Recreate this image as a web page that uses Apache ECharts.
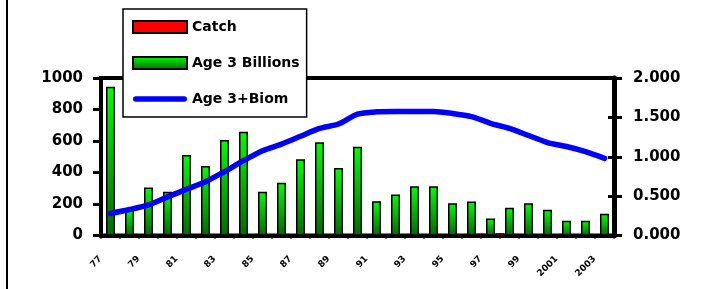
<!DOCTYPE html>
<html>
<head>
<meta charset="utf-8">
<script src="https://cdn.jsdelivr.net/npm/echarts@6/dist/echarts.min.js"></script>
<style>
html,body{margin:0;padding:0;background:#fff;}
#c{width:708px;height:289px;}
</style>
</head>
<body>
<div id="c"></div>
<script>
const years = ['77','78','79','80','81','82','83','84','85','86','87','88','89','90','91','92','93','94','95','96','97','98','99','2000','2001','2002','2003'];
const catchVals = [0,0,0,0,0,0,0,0,0,0,0,0,0,0,0,0,0,0,0,0,12,14,10,0,0,0,0];
const age3Billions = [945,162,305,278,511,441,606,659,278,335,484,592,428,564,218,260,313,313,205,216,108,176,205,163,93,93,138];
const age3Biom = [0.28,0.33,0.39,0.49,0.587,0.683,0.81,0.95,1.077,1.16,1.26,1.36,1.416,1.54,1.57,1.575,1.575,1.575,1.55,1.51,1.425,1.36,1.27,1.18,1.13,1.065,0.98];
const leftTicks = [0, 1000, 200];
const rightTicks = [0, 2, 0.5];

const FONT = 'DejaVu Sans';
const chart = echarts.init(document.getElementById('c'), null, {renderer: 'canvas'});
const greenGrad = new echarts.graphic.LinearGradient(0, 0, 0, 1, [
  {offset: 0, color: '#00ff00'},
  {offset: 1, color: '#006a00'}
]);
chart.setOption({
  animation: false,
  backgroundColor: '#ffffff',
  graphic: [{type: 'rect', left: 6, top: 0, shape: {width: 2, height: 289}, style: {fill: '#000'}}],
  grid: {left: 101, right: 94, top: 78, bottom: 53.5, show: true, borderColor: '#000', borderWidth: 4, backgroundColor: 'transparent'},
  legend: {
    left: 123, top: 9, orient: 'vertical',
    backgroundColor: '#fff', borderColor: '#000', borderWidth: 1.5,
    padding: [10, 7, 10, 9],
    itemWidth: 54, itemHeight: 12, itemGap: 20,
    textStyle: {fontFamily: FONT, fontWeight: 'bold', fontSize: 14, color: '#000', lineHeight: 16},
    data: [
      {name: 'Catch', icon: 'rect'},
      {name: 'Age 3 Billions', icon: 'rect'},
      {name: 'Age 3+Biom', icon: 'path://M3,0 H57 A3,3 0 0 1 57,6 H3 A3,3 0 0 1 3,0 Z', itemStyle: {color: '#0000ff', borderWidth: 0}}
    ]
  },
  xAxis: [{
    type: 'category', data: years, boundaryGap: true,
    axisLine: {lineStyle: {color: '#000', width: 4}},
    axisTick: {show: true, interval: 0, length: 3, lineStyle: {color: '#000', width: 2}},
    axisLabel: {interval: 1, rotate: 45, margin: 12, padding: [0, 14, 0, 0], fontFamily: FONT, fontWeight: 'bold', fontSize: 9, color: '#000'},
    splitLine: {show: false}
  }],
  yAxis: [{
    type: 'value', position: 'left', min: leftTicks[0], max: leftTicks[1], interval: leftTicks[2],
    axisLine: {show: true, lineStyle: {color: '#000', width: 4}},
    axisTick: {show: true, length: 8, lineStyle: {color: '#000', width: 3}},
    axisLabel: {margin: 18, fontFamily: FONT, fontWeight: 'bold', fontSize: 15, color: '#000', formatter: v => String(v)},
    splitLine: {show: false}
  }, {
    type: 'value', position: 'right', min: rightTicks[0], max: rightTicks[1], interval: rightTicks[2],
    axisLine: {show: true, lineStyle: {color: '#000', width: 5}},
    axisTick: {show: true, length: 8, lineStyle: {color: '#000', width: 3}},
    axisLabel: {margin: 19, fontFamily: FONT, fontWeight: 'bold', fontSize: 15, color: '#000', formatter: v => v.toFixed(3)},
    splitLine: {show: false}
  }, {
    type: 'value', position: 'right', min: rightTicks[0], max: rightTicks[1], interval: rightTicks[2],
    axisLine: {show: false},
    axisTick: {show: true, inside: true, length: 6, lineStyle: {color: '#000', width: 3}},
    axisLabel: {show: false},
    splitLine: {show: false}
  }],
  series: [{
    name: 'Catch', type: 'bar', data: catchVals, barWidth: 9, barGap: '5%',
    itemStyle: {color: '#ff0000', borderColor: '#000', borderWidth: 1}
  }, {
    name: 'Age 3 Billions', type: 'bar', data: age3Billions, barWidth: 9, barGap: '5%',
    itemStyle: {color: greenGrad, borderColor: '#000', borderWidth: 1.5}
  }, {
    name: 'spacer', type: 'bar', data: [], barWidth: 9, barGap: '5%'
  }, {
    name: 'Age 3+Biom', type: 'line', yAxisIndex: 1, data: age3Biom, symbol: 'none', smooth: 0.25,
    itemStyle: {color: '#0000ff'},
    lineStyle: {color: '#0000ff', width: 5.5, cap: 'round', join: 'round'}, z: 5
  }]
});
</script>
</body>
</html>
